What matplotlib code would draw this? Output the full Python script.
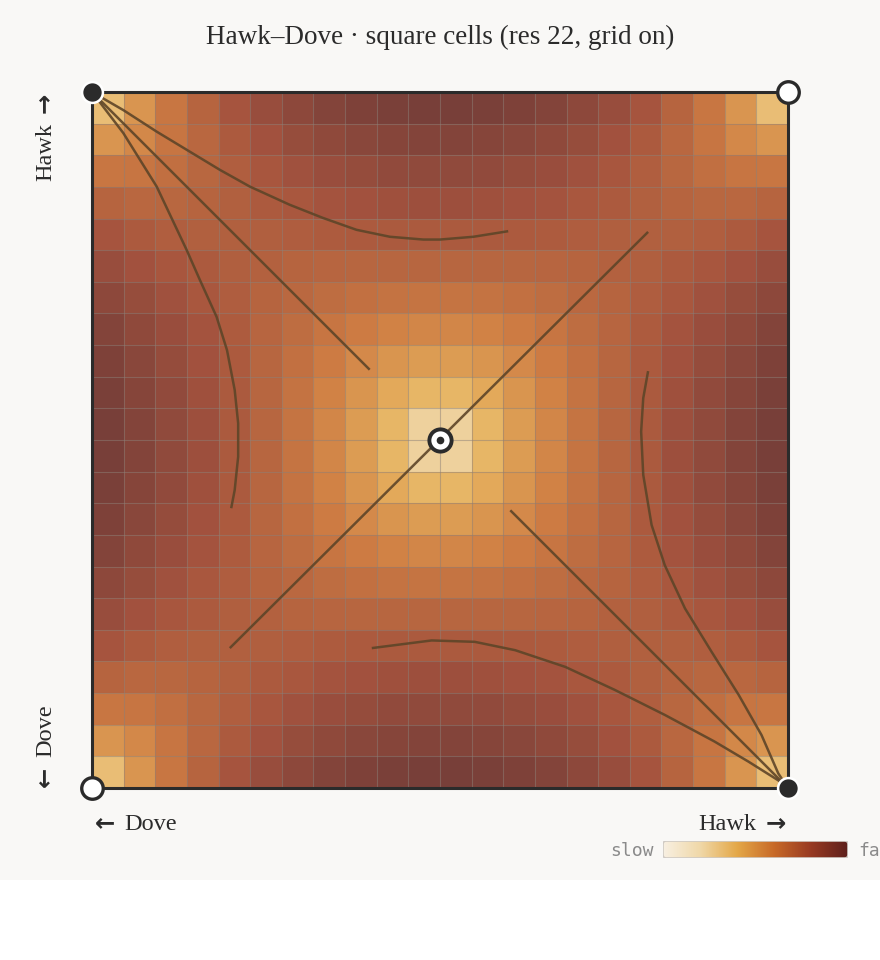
import matplotlib
matplotlib.use("Agg")
import matplotlib.pyplot as plt
import numpy as np
from matplotlib.colors import LinearSegmentedColormap, PowerNorm
from matplotlib.patches import Rectangle, FancyBboxPatch

# ---------------------------------------------------------------------------
# Data: flow speed per cell (x 1e-3), rows = Hawk share of player 2 (bottom -> top),
# columns = Hawk share of player 1 (left -> right)
# ---------------------------------------------------------------------------
N_CELLS = 22
speed_grid = [
    [30, 64, 98, 129, 156, 179, 199, 215, 226, 234, 238, 238, 234, 226, 215, 199, 179, 156, 129, 98, 64, 30],
    [64, 78, 100, 123, 145, 165, 182, 195, 205, 212, 216, 216, 212, 205, 195, 182, 165, 145, 123, 100, 78, 64],
    [98, 100, 110, 124, 139, 153, 166, 177, 185, 190, 193, 193, 190, 185, 177, 166, 153, 139, 124, 110, 100, 98],
    [129, 123, 124, 129, 136, 144, 152, 159, 165, 168, 170, 170, 168, 165, 159, 152, 144, 136, 129, 124, 123, 129],
    [156, 145, 139, 136, 136, 137, 140, 143, 145, 147, 148, 148, 147, 145, 143, 140, 137, 136, 136, 139, 145, 156],
    [179, 165, 153, 144, 137, 133, 129, 127, 126, 125, 125, 125, 125, 126, 127, 129, 133, 137, 144, 153, 165, 179],
    [199, 182, 166, 152, 140, 129, 120, 113, 108, 104, 103, 103, 104, 108, 113, 120, 129, 140, 152, 166, 182, 199],
    [215, 195, 177, 159, 143, 127, 113, 101, 91, 84, 80, 80, 84, 91, 101, 113, 127, 143, 159, 177, 195, 215],
    [226, 205, 185, 165, 145, 126, 108, 91, 76, 65, 58, 58, 65, 76, 91, 108, 126, 145, 165, 185, 205, 226],
    [234, 212, 190, 168, 147, 125, 104, 84, 65, 47, 36, 36, 47, 65, 84, 104, 125, 147, 168, 190, 212, 234],
    [238, 216, 193, 170, 148, 125, 103, 80, 58, 36, 16, 16, 36, 58, 80, 103, 125, 148, 170, 193, 216, 238],
    [238, 216, 193, 170, 148, 125, 103, 80, 58, 36, 16, 16, 36, 58, 80, 103, 125, 148, 170, 193, 216, 238],
    [234, 212, 190, 168, 147, 125, 104, 84, 65, 47, 36, 36, 47, 65, 84, 104, 125, 147, 168, 190, 212, 234],
    [226, 205, 185, 165, 145, 126, 108, 91, 76, 65, 58, 58, 65, 76, 91, 108, 126, 145, 165, 185, 205, 226],
    [215, 195, 177, 159, 143, 127, 113, 101, 91, 84, 80, 80, 84, 91, 101, 113, 127, 143, 159, 177, 195, 215],
    [199, 182, 166, 152, 140, 129, 120, 113, 108, 104, 103, 103, 104, 108, 113, 120, 129, 140, 152, 166, 182, 199],
    [179, 165, 153, 144, 137, 133, 129, 127, 126, 125, 125, 125, 125, 126, 127, 129, 133, 137, 144, 153, 165, 179],
    [156, 145, 139, 136, 136, 137, 140, 143, 145, 147, 148, 148, 147, 145, 143, 140, 137, 136, 136, 139, 145, 156],
    [129, 123, 124, 129, 136, 144, 152, 159, 165, 168, 170, 170, 168, 165, 159, 152, 144, 136, 129, 124, 123, 129],
    [98, 100, 110, 124, 139, 153, 166, 177, 185, 190, 193, 193, 190, 185, 177, 166, 153, 139, 124, 110, 100, 98],
    [64, 78, 100, 123, 145, 165, 182, 195, 205, 212, 216, 216, 212, 205, 195, 182, 165, 145, 123, 100, 78, 64],
    [30, 64, 98, 129, 156, 179, 199, 215, 226, 234, 238, 238, 234, 226, 215, 199, 179, 156, 129, 98, 64, 30],
]

# trajectories (x = P1 hawk share, y = P2 hawk share)
traj_top = [(0.598, 0.800), (0.548, 0.792), (0.500, 0.788), (0.476, 0.788), (0.428, 0.792),
            (0.380, 0.802), (0.332, 0.819), (0.284, 0.838), (0.227, 0.864), (0.184, 0.888),
            (0.141, 0.914), (0.093, 0.943), (0.045, 0.974), (0.0, 1.0)]
traj_left = [(0.200, 0.402), (0.205, 0.428), (0.210, 0.476), (0.210, 0.524), (0.205, 0.572),
             (0.194, 0.629), (0.179, 0.677), (0.155, 0.730), (0.136, 0.773), (0.093, 0.864),
             (0.045, 0.941), (0.0, 1.0)]
traj_bottom = [(0.402, 0.201), (0.488, 0.212), (0.550, 0.210), (0.608, 0.198), (0.680, 0.174),
               (0.751, 0.141), (0.823, 0.105), (0.894, 0.067), (0.943, 0.038), (0.986, 0.011),
               (1.0, 0.0)]
traj_right = [(0.799, 0.599), (0.792, 0.560), (0.789, 0.512), (0.792, 0.450), (0.804, 0.378),
              (0.823, 0.320), (0.852, 0.258), (0.890, 0.196), (0.929, 0.134), (0.962, 0.076),
              (0.986, 0.021), (1.0, 0.0)]
manifold_tl = [(0.399, 0.601), (0.0, 1.0)]
manifold_br = [(0.601, 0.399), (1.0, 0.0)]
diagonal = [(0.198, 0.201), (0.799, 0.799)]

stable_pts = [(0.0, 1.0), (1.0, 0.0)]
unstable_pts = [(0.0, 0.0), (1.0, 1.0)]
saddle_pt = (0.5, 0.5)

# ---------------------------------------------------------------------------
BG = "#f9f8f6"
INK = "#2b2b2b"
LINE = "#5e4528"
SERIF = ["Liberation Serif", "DejaVu Serif"]
ARROW_FONT = "DejaVu Sans"
LABEL_SIZE = 17.5

cmap = LinearSegmentedColormap.from_list("slowfast", [
    (0.0, "#f8f0e2"), (0.2, "#f0d8a8"), (0.4, "#e4a848"),
    (0.6, "#c86a28"), (0.8, "#983a22"), (1.0, "#5e201c")])
norm = PowerNorm(gamma=0.5, vmin=0, vmax=250)

fig = plt.figure(figsize=(8.8, 9.6), dpi=100, facecolor="white")
fig.patches.append(Rectangle((0, 80 / 960), 1, 880 / 960, transform=fig.transFigure,
                             facecolor=BG, edgecolor="none", zorder=-10))

ax = fig.add_axes([92 / 880, 1 - 788 / 960, 696 / 880, 696 / 960])
ax.set_facecolor(BG)
edges = np.linspace(0, 1, N_CELLS + 1)
ax.pcolormesh(edges, edges, np.array(speed_grid), cmap=cmap, norm=norm,
              alpha=0.87, shading="flat", edgecolors="none", zorder=1)
ax.vlines(edges[1:-1], 0, 1, color=(0.55, 0.5, 0.47), alpha=0.5, lw=0.8, zorder=2)
ax.hlines(edges[1:-1], 0, 1, color=(0.55, 0.5, 0.47), alpha=0.5, lw=0.8, zorder=2)

for path in (traj_top, traj_left, traj_bottom, traj_right, manifold_tl, manifold_br, diagonal):
    xs, ys = zip(*path)
    ax.plot(xs, ys, color=LINE, lw=1.8, alpha=0.9, solid_capstyle="butt",
            solid_joinstyle="round", zorder=3)

ax.set_xlim(0, 1)
ax.set_ylim(0, 1)
ax.set_xticks([])
ax.set_yticks([])
for sp in ax.spines.values():
    sp.set_linewidth(2.2)
    sp.set_color(INK)
    sp.set_zorder(4)

for px, py in stable_pts:
    ax.plot(px, py, "o", ms=15, mfc=INK, mec="white", mew=1.8, clip_on=False, zorder=6)
for px, py in unstable_pts:
    ax.plot(px, py, "o", ms=15.5, mfc="white", mec=INK, mew=2.4, clip_on=False, zorder=6)
ax.plot(*saddle_pt, "o", ms=16, mfc="white", mec=INK, mew=2.8, clip_on=False, zorder=6)
ax.plot(*saddle_pt, "o", ms=5.5, mfc=INK, mec=INK, mew=0, clip_on=False, zorder=7)

# title
fig.text(0.5, 1 - 37 / 960, "Hawk\u2013Dove \u00b7 square cells (res 22, grid on)",
         ha="center", va="center", fontsize=19.5, color=INK, family=SERIF)

# bottom captions (arrow glyphs from DejaVu Sans, words in serif)
base_y = 1 - 830 / 960
fig.text(95 / 880, base_y, "\u2190", ha="left", va="baseline", fontweight="bold",
         fontsize=LABEL_SIZE, color=INK, family=ARROW_FONT)
fig.text(124 / 880, base_y, "Dove", ha="left", va="baseline",
         fontsize=LABEL_SIZE, color=INK, family=SERIF)
fig.text(786 / 880, base_y, "\u2192", ha="right", va="baseline", fontweight="bold",
         fontsize=LABEL_SIZE, color=INK, family=ARROW_FONT)
fig.text(756 / 880, base_y, "Hawk", ha="right", va="baseline",
         fontsize=LABEL_SIZE, color=INK, family=SERIF)

# left captions, rotated to read upward
base_x = 51 / 880
fig.text(base_x, 1 - 93 / 960, "\u2192", ha="right", va="baseline", rotation=90,
         rotation_mode="anchor", fontweight="bold", fontsize=LABEL_SIZE, color=INK,
         family=ARROW_FONT)
fig.text(base_x, 1 - 123 / 960, "Hawk", ha="right", va="baseline", rotation=90,
         rotation_mode="anchor", fontsize=LABEL_SIZE, color=INK, family=SERIF)
fig.text(base_x, 1 - 787 / 960, "\u2190", ha="left", va="baseline", rotation=90,
         rotation_mode="anchor", fontweight="bold", fontsize=LABEL_SIZE, color=INK,
         family=ARROW_FONT)
fig.text(base_x, 1 - 757 / 960, "Dove", ha="left", va="baseline", rotation=90,
         rotation_mode="anchor", fontsize=LABEL_SIZE, color=INK, family=SERIF)

# colour key
cax = fig.add_axes([663 / 880, 1 - 858 / 960, 185 / 880, 17 / 960])
cax.set_axis_off()
ramp = np.linspace(0, 1, 256)[None, :]
img = cax.imshow(ramp, aspect="auto", cmap=cmap, extent=[0, 1, 0, 1])
frame = FancyBboxPatch((0, 0), 1, 1, boxstyle="round,pad=0,rounding_size=0.018",
                       mutation_aspect=185 / 17, transform=cax.transAxes,
                       facecolor="none", edgecolor="#cfcac4", lw=1.2)
cax.add_patch(frame)
img.set_clip_path(frame)
fig.text(654 / 880, 1 - 851 / 960, "slow", ha="right", va="center",
         fontsize=13, color="#8a8a8a", family="DejaVu Sans Mono")
fig.text(858 / 880, 1 - 851 / 960, "fast", ha="left", va="center",
         fontsize=13, color="#8a8a8a", family="DejaVu Sans Mono")

fig.savefig("out.png", dpi=100, facecolor=fig.get_facecolor())
